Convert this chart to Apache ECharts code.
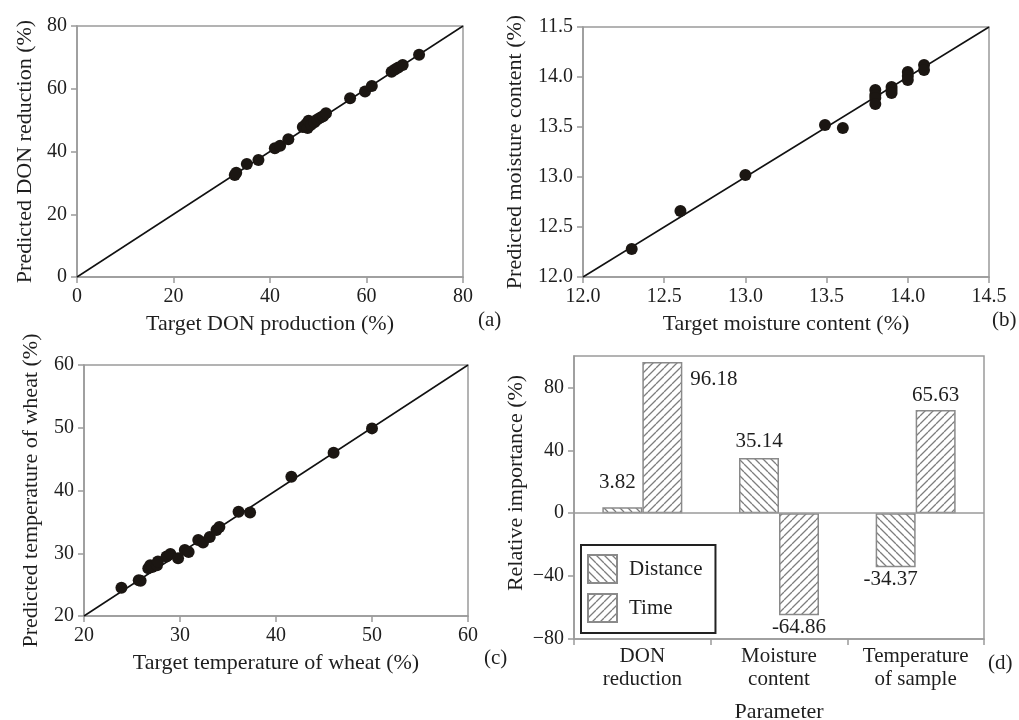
<!DOCTYPE html>
<html>
<head>
<meta charset="utf-8">
<title>Model predictions and relative importance</title>
<script src="https://cdn.jsdelivr.net/npm/echarts@6/dist/echarts.min.js"></script>
<style>
  html, body { margin: 0; padding: 0; background: #fff; }
  #chart { width: 1019px; height: 720px; }
</style>
</head>
<body>
<div id="chart"></div>
<script>
// (a) DON reduction: [target, predicted]
const donPoints = [
  [32.7, 32.5], [33.0, 33.2], [35.2, 36.0], [37.6, 37.3], [41.0, 41.0],
  [42.1, 41.8], [43.8, 43.9], [46.8, 47.8], [47.5, 48.8], [47.8, 47.5],
  [48.0, 49.8], [48.5, 48.5], [49.2, 49.3], [49.8, 50.2], [50.5, 50.8],
  [51.0, 51.2], [51.6, 52.2], [56.6, 57.0], [59.7, 59.1], [61.1, 60.9],
  [65.2, 65.4], [65.9, 66.1], [66.6, 66.8], [67.5, 67.6], [70.9, 70.8]
];
// (b) moisture content: [target, predicted]
const moisturePoints = [
  [12.3, 12.28], [12.6, 12.66], [13.0, 13.02], [13.49, 13.52], [13.6, 13.49],
  [13.8, 13.87], [13.8, 13.82], [13.8, 13.79], [13.8, 13.73],
  [13.9, 13.90], [13.9, 13.87], [13.9, 13.84],
  [14.0, 14.05], [14.0, 14.01], [14.0, 13.97],
  [14.1, 14.12], [14.1, 14.07]
];
// (c) wheat temperature: [target, predicted]
const temperaturePoints = [
  [23.9, 24.5], [25.7, 25.7], [25.9, 25.6], [26.7, 27.6], [26.9, 28.1],
  [27.1, 27.8], [27.6, 28.1], [27.7, 28.7], [28.6, 29.5], [29.0, 29.9],
  [29.8, 29.2], [30.5, 30.5], [30.9, 30.2], [31.9, 32.1], [32.4, 31.7],
  [33.1, 32.6], [33.8, 33.7], [34.1, 34.2], [36.1, 36.6], [37.3, 36.5],
  [41.6, 42.2], [46.0, 46.0], [50.0, 49.9]
];
// (d) relative importance of the two inputs for each output
const parameters = ['DON\nreduction', 'Moisture\ncontent', 'Temperature\nof sample'];
const distanceImportance = [3.82, 35.14, -34.37];
const timeImportance = [96.18, -64.86, 65.63];
const importanceTicks = [-80, -40, 0, 40, 80];

// axis ranges and tick labels
const donRange = [0, 80];
const moistureRange = [12.0, 14.5];
const moistureYLabels = ['12.0', '12.5', '13.0', '13.5', '14.0', '11.5'];
const temperatureRange = [20, 60];
const importanceRange = [-80, 100];

const FONT = "'Liberation Serif', 'DejaVu Serif', serif";
const INK = '#1e1e1e';
const FRAME = '#9a9a9a';

// diagonal hatch tiles used to fill the bars
function hatch(forward) {
  const s = 8;
  const c = document.createElement('canvas');
  c.width = s; c.height = s;
  const g = c.getContext('2d');
  g.fillStyle = '#fff';
  g.fillRect(0, 0, s, s);
  g.strokeStyle = '#7d7d7d';
  g.lineWidth = 1.3;
  g.beginPath();
  for (let k = -1; k <= 1; k++) {
    if (forward) {           // "/"
      g.moveTo(k * s, s); g.lineTo(k * s + s, 0);
    } else {                 // "\"
      g.moveTo(k * s, 0); g.lineTo(k * s + s, s);
    }
  }
  g.stroke();
  return c;
}

const tickLabel = { color: INK, fontFamily: FONT, fontSize: 20, margin: 10 };

function valueAxis(gridIndex, range, interval, extra) {
  return Object.assign({
    type: 'value', gridIndex, min: range[0], max: range[1], interval,
    axisLine: { show: true, onZero: false, lineStyle: { color: FRAME, width: 1.5 } },
    axisTick: { show: true, length: 6, lineStyle: { color: FRAME, width: 1.5 } },
    splitLine: { show: false },
    axisLabel: tickLabel,
    nameLocation: 'middle',
    nameTextStyle: { color: INK, fontFamily: FONT, fontSize: 22 }
  }, extra || {});
}

const gridBox = {
  show: true, borderColor: FRAME, borderWidth: 1.5, backgroundColor: '#fff',
  outerBoundsMode: 'none', containLabel: false
};

function scatterPanel(i, points) {
  return {
    type: 'scatter', xAxisIndex: i, yAxisIndex: i, data: points,
    symbol: 'circle', symbolSize: 12, z: 3,
    itemStyle: { color: '#1b1612', opacity: 1 }
  };
}
function diagonal(i, range) {
  return {
    type: 'line', xAxisIndex: i, yAxisIndex: i,
    data: [[range[0], range[0]], [range[1], range[1]]],
    symbol: 'none', z: 2, silent: true,
    lineStyle: { color: '#111', width: 1.5 }
  };
}

// label placement for each bar in (d)
const distanceLabelStyle = [
  { position: 'top', distance: 14, offset: [-5, 0] },
  { position: 'top', distance: 6 },
  { position: 'bottom', distance: 2, offset: [-5, 0] }
];
const timeLabelStyle = [
  { position: [48, 17], align: 'left', verticalAlign: 'middle' },
  { position: 'bottom', distance: 2 },
  { position: 'top', distance: 4 }
];
function barData(values, styles) {
  return values.map((v, k) => ({ value: v, label: styles[k] }));
}

const barStyleBase = { borderColor: '#8a8a8a', borderWidth: 1.5 };
const minus = v => (v < 0 ? '\u2212' + Math.abs(v) : String(v));

const option = {
  animation: false,
  backgroundColor: '#fff',
  textStyle: { fontFamily: FONT },
  grid: [
    Object.assign({ left: 77, top: 26, width: 386, height: 251 }, gridBox),
    Object.assign({ left: 583, top: 27, width: 406, height: 250 }, gridBox),
    Object.assign({ left: 84, top: 365, width: 384, height: 251 }, gridBox),
    Object.assign({ left: 574, top: 356, width: 410, height: 283 }, gridBox)
  ],
  xAxis: [
    valueAxis(0, donRange, 20, { name: 'Target DON production (%)', nameGap: 36 }),
    valueAxis(1, moistureRange, 0.5, {
      name: 'Target moisture content (%)', nameGap: 36,
      axisLabel: Object.assign({}, tickLabel, { formatter: v => v.toFixed(1) })
    }),
    valueAxis(2, temperatureRange, 10, { name: 'Target temperature of wheat (%)', nameGap: 36 }),
    {
      type: 'category', gridIndex: 3, data: parameters,
      axisLine: { show: true, onZero: false, lineStyle: { color: FRAME, width: 1.5 } },
      axisTick: { show: true, length: 6, lineStyle: { color: FRAME, width: 1.5 } },
      axisLabel: { color: INK, fontFamily: FONT, fontSize: 21, lineHeight: 23, margin: 6, interval: 0 },
      name: 'Parameter', nameLocation: 'middle', nameGap: 62,
      nameTextStyle: { color: INK, fontFamily: FONT, fontSize: 22 }
    }
  ],
  yAxis: [
    valueAxis(0, donRange, 20, { name: 'Predicted DON reduction (%)', nameGap: 41 }),
    valueAxis(1, moistureRange, 0.5, {
      name: 'Predicted moisture content (%)', nameGap: 57,
      axisLabel: Object.assign({}, tickLabel, {
        formatter: v => moistureYLabels[Math.round((v - moistureRange[0]) / 0.5)]
      })
    }),
    valueAxis(2, temperatureRange, 10, { name: 'Predicted temperature of wheat (%)', nameGap: 42 }),
    valueAxis(3, importanceRange, 40, {
      axisTick: { show: true, length: 6, customValues: importanceTicks, lineStyle: { color: FRAME, width: 1.5 } },
      axisLabel: Object.assign({}, tickLabel, { customValues: importanceTicks, formatter: minus })
    })
  ],
  legend: {
    data: ['Distance', 'Time'],
    orient: 'vertical', left: 581, top: 545,
    icon: 'rect', itemWidth: 29, itemHeight: 28, itemGap: 9,
    padding: [9, 13, 10, 6],
    borderColor: '#222', borderWidth: 2, backgroundColor: '#fff',
    textStyle: { color: INK, fontFamily: FONT, fontSize: 21, padding: [0, 0, 0, 7] }
  },
  series: [
    diagonal(0, donRange), scatterPanel(0, donPoints),
    diagonal(1, moistureRange), scatterPanel(1, moisturePoints),
    diagonal(2, temperatureRange), scatterPanel(2, temperaturePoints),
    {
      name: 'Distance', type: 'bar', xAxisIndex: 3, yAxisIndex: 3,
      barWidth: 40, barGap: '0%',
      data: barData(distanceImportance, distanceLabelStyle),
      itemStyle: Object.assign({ color: { image: hatch(false), repeat: 'repeat' } }, barStyleBase),
      label: { show: true, color: INK, fontFamily: FONT, fontSize: 21 },
      markLine: {
        silent: true, symbol: 'none', label: { show: false },
        lineStyle: { color: FRAME, width: 1.5, type: 'solid' },
        data: [{ yAxis: 0 }]
      }
    },
    {
      name: 'Time', type: 'bar', xAxisIndex: 3, yAxisIndex: 3,
      barWidth: 40, barGap: '0%',
      data: barData(timeImportance, timeLabelStyle),
      itemStyle: Object.assign({ color: { image: hatch(true), repeat: 'repeat' } }, barStyleBase),
      label: { show: true, color: INK, fontFamily: FONT, fontSize: 21 }
    }
  ],
  graphic: [
    {
      type: 'text', x: 516, y: 483, rotation: Math.PI / 2,
      style: { text: 'Relative importance (%)', font: '22px ' + FONT, fill: INK, align: 'center', verticalAlign: 'middle' }
    },
    { type: 'text', left: 478, top: 310, style: { text: '(a)', font: '21px ' + FONT, fill: INK } },
    { type: 'text', left: 992, top: 310, style: { text: '(b)', font: '21px ' + FONT, fill: INK } },
    { type: 'text', left: 484, top: 648, style: { text: '(c)', font: '21px ' + FONT, fill: INK } },
    { type: 'text', left: 988, top: 653, style: { text: '(d)', font: '21px ' + FONT, fill: INK } }
  ]
};

const chart = echarts.init(document.getElementById('chart'), null, { renderer: 'canvas' });
chart.setOption(option);
</script>
</body>
</html>
